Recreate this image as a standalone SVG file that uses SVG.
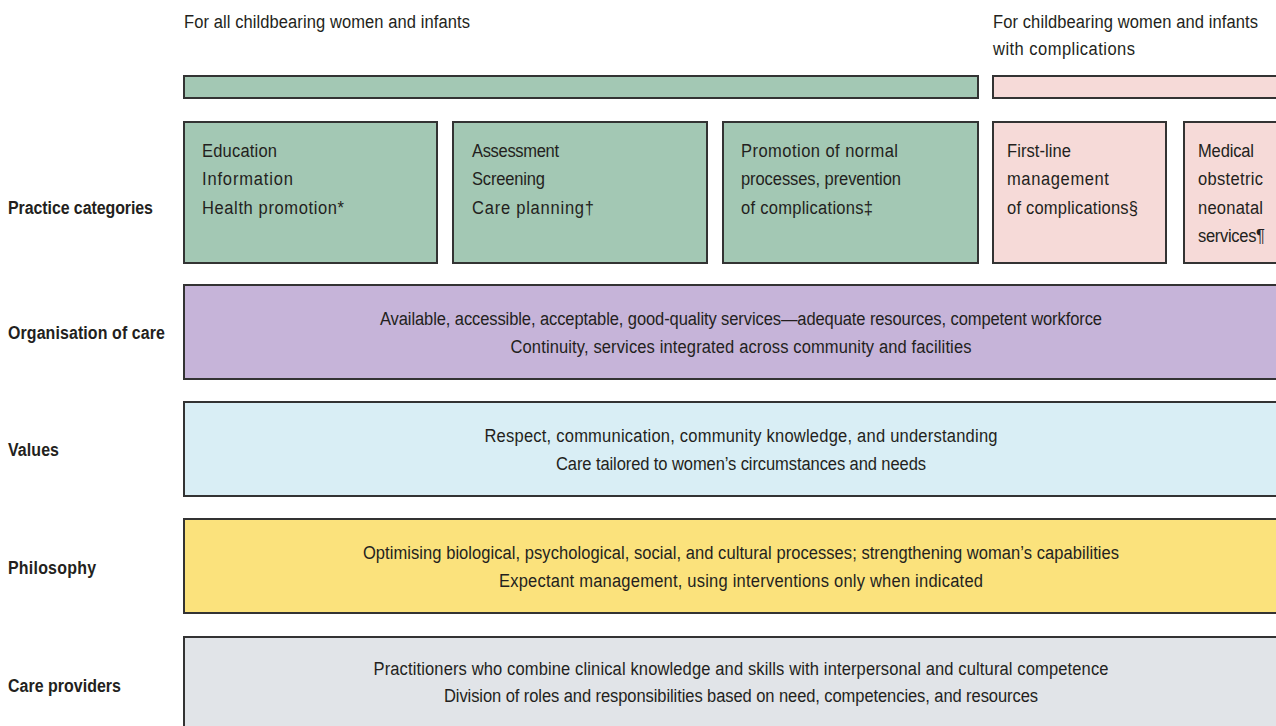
<svg xmlns="http://www.w3.org/2000/svg" width="1276" height="726" viewBox="0 0 1276 726">
<style>
text{font-family:"Liberation Sans",Arial,sans-serif;font-size:19px;fill:#231f20}
.lab{font-weight:bold}
.c{text-anchor:middle}
.box{stroke:#333;stroke-width:2}
.g{fill:#a3c8b4}.p{fill:#f6dad8}.v{fill:#c6b4d9}.b{fill:#d9eef5}.y{fill:#fbe27c}.gr{fill:#e1e4e8}
</style>
<rect width="1276" height="726" fill="#fff"/>
<g id="headers">
<rect class="box g" x="184" y="76" width="794" height="22"/>
<rect class="box p" x="993" y="76" width="300" height="22"/>
<g transform="scale(0.87 1)">
<text x="211.49" y="28" textLength="328.7" lengthAdjust="spacing">For all childbearing women and infants</text>
<text x="1141.38" y="28" textLength="304.6" lengthAdjust="spacing">For childbearing women and infants</text>
<text x="1141.38" y="55" textLength="163.2" lengthAdjust="spacing">with complications</text>
</g>
</g>
<g id="labels" transform="scale(0.84 1)">
<text class="lab" x="9.52" y="214" textLength="172.6" lengthAdjust="spacing">Practice categories</text>
<text class="lab" x="9.52" y="339" textLength="186.9" lengthAdjust="spacing">Organisation of care</text>
<text class="lab" x="9.52" y="456" textLength="60.7" lengthAdjust="spacing">Values</text>
<text class="lab" x="9.52" y="574" textLength="104.8" lengthAdjust="spacing">Philosophy</text>
<text class="lab" x="9.52" y="692" textLength="134.5" lengthAdjust="spacing">Care providers</text>
</g>
<g id="box1">
<rect class="box g" x="184" y="122" width="253" height="141"/>
<g transform="scale(0.87 1)">
<text x="232.18" y="157" textLength="86.2" lengthAdjust="spacing">Education</text>
<text x="232.18" y="185" textLength="104.6" lengthAdjust="spacing">Information</text>
<text x="232.18" y="214" textLength="163.2" lengthAdjust="spacing">Health promotion*</text>
</g>
</g>
<g id="box2">
<rect class="box g" x="453" y="122" width="254" height="141"/>
<g transform="scale(0.87 1)">
<text x="542.53" y="157" textLength="100" lengthAdjust="spacing">Assessment</text>
<text x="542.53" y="185" textLength="83.9" lengthAdjust="spacing">Screening</text>
<text x="542.53" y="214" textLength="140.2" lengthAdjust="spacing">Care planning†</text>
</g>
</g>
<g id="box3">
<rect class="box g" x="723" y="122" width="255" height="141"/>
<g transform="scale(0.87 1)">
<text x="851.72" y="157" textLength="180.5" lengthAdjust="spacing">Promotion of normal</text>
<text x="851.72" y="185" textLength="183.9" lengthAdjust="spacing">processes, prevention</text>
<text x="851.72" y="214" textLength="151.7" lengthAdjust="spacing">of complications‡</text>
</g>
</g>
<g id="box4">
<rect class="box p" x="993" y="122" width="173" height="141"/>
<g transform="scale(0.87 1)">
<text x="1157.47" y="157" textLength="73.6" lengthAdjust="spacing">First-line</text>
<text x="1157.47" y="185" textLength="117.2" lengthAdjust="spacing">management</text>
<text x="1157.47" y="214" textLength="150.6" lengthAdjust="spacing">of complications§</text>
</g>
</g>
<g id="box5">
<rect class="box p" x="1184" y="122" width="110" height="141"/>
<g transform="scale(0.87 1)">
<text x="1377.01" y="157" textLength="64.4" lengthAdjust="spacing">Medical</text>
<text x="1377.01" y="185" textLength="74.7" lengthAdjust="spacing">obstetric</text>
<text x="1377.01" y="214" textLength="74.7" lengthAdjust="spacing">neonatal</text>
<text x="1377.01" y="242" textLength="77" lengthAdjust="spacing">services¶</text>
</g>
</g>
<g id="organisation">
<rect class="box v" x="184" y="285" width="1110" height="94"/>
<g transform="scale(0.87 1)">
<text class="c" x="851.72" y="325" textLength="829.9" lengthAdjust="spacing">Available, accessible, acceptable, good-quality services—adequate resources, competent workforce</text>
<text class="c" x="851.72" y="353" textLength="529.9" lengthAdjust="spacing">Continuity, services integrated across community and facilities</text>
</g>
</g>
<g id="values">
<rect class="box b" x="184" y="402" width="1110" height="94"/>
<g transform="scale(0.87 1)">
<text class="c" x="851.72" y="442" textLength="589.7" lengthAdjust="spacing">Respect, communication, community knowledge, and understanding</text>
<text class="c" x="851.72" y="470" textLength="425.3" lengthAdjust="spacing">Care tailored to women’s circumstances and needs</text>
</g>
</g>
<g id="philosophy">
<rect class="box y" x="184" y="519" width="1110" height="94"/>
<g transform="scale(0.87 1)">
<text class="c" x="851.72" y="559" textLength="869" lengthAdjust="spacing">Optimising biological, psychological, social, and cultural processes; strengthening woman’s capabilities</text>
<text class="c" x="851.72" y="587" textLength="556.3" lengthAdjust="spacing">Expectant management, using interventions only when indicated</text>
</g>
</g>
<g id="providers">
<rect class="box gr" x="184" y="637" width="1110" height="100"/>
<g transform="scale(0.87 1)">
<text class="c" x="851.72" y="675" textLength="844.8" lengthAdjust="spacing">Practitioners who combine clinical knowledge and skills with interpersonal and cultural competence</text>
<text class="c" x="851.72" y="702" textLength="682.8" lengthAdjust="spacing">Division of roles and responsibilities based on need, competencies, and resources</text>
</g>
</g>
<g id="connectors"></g>
</svg>
